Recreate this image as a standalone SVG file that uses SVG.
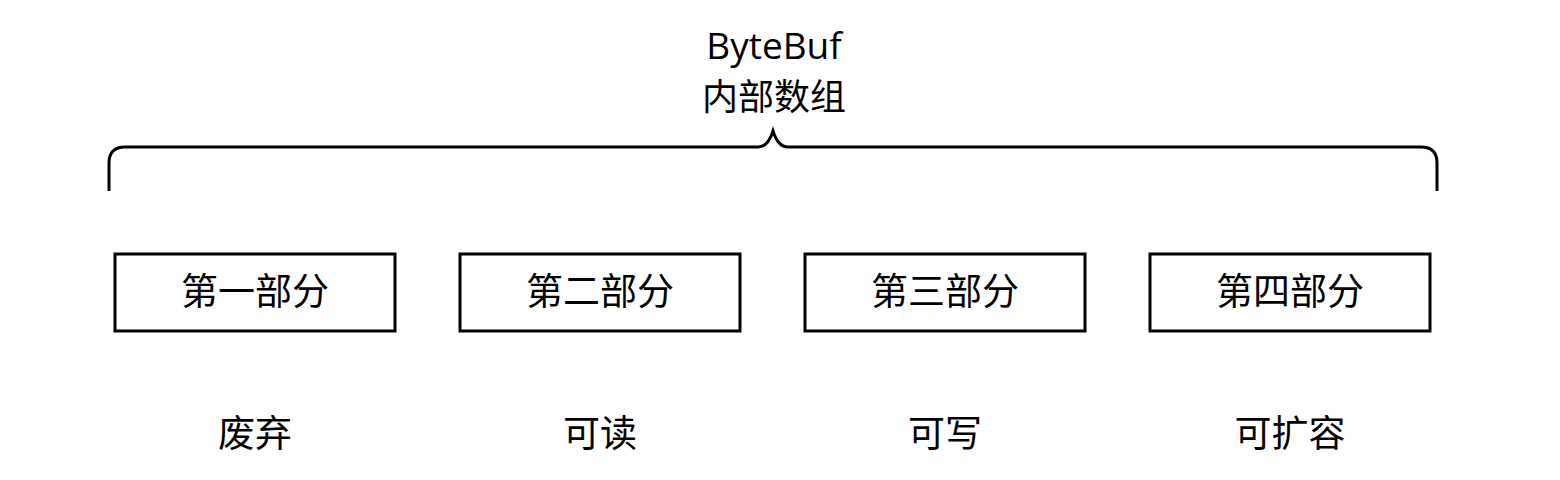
<svg xmlns="http://www.w3.org/2000/svg" width="1560" height="480" viewBox="0 0 1560 480">
<style>
.box{fill:#fff;stroke:#000;stroke-width:3}
.t{font-family:"Noto Sans CJK SC","Open Sans",sans-serif;fill:#000;text-anchor:middle}
.bl{font-size:37px}
.lb{font-size:37px}
</style>
<rect width="1560" height="480" fill="#fff"/>
<g id="title">
<text class="t" x="774" y="59" style="font-family:'Open Sans','Noto Sans CJK SC',sans-serif;font-size:37px">ByteBuf</text>
<text class="t" x="774" y="110" style="font-size:36px">内部数组</text>
</g>
<g id="connectors">
<path d="M109,191 V163 Q109,147 125,147 H758 Q768,147 773,131 Q778,147 788,147 H1421 Q1437,147 1437,163 V191" fill="none" stroke="#000" stroke-width="3"/>
</g>
<g id="part1"><rect class="box" x="115" y="254" width="280" height="77"/><text class="t bl" x="255" y="305">第一部分</text></g>
<g id="part2"><rect class="box" x="460" y="254" width="280" height="77"/><text class="t bl" x="600" y="305">第二部分</text></g>
<g id="part3"><rect class="box" x="805" y="254" width="280" height="77"/><text class="t bl" x="945" y="305">第三部分</text></g>
<g id="part4"><rect class="box" x="1150" y="254" width="280" height="77"/><text class="t bl" x="1290" y="305">第四部分</text></g>
<g id="label1"><text class="t lb" x="255" y="447">废弃</text></g>
<g id="label2"><text class="t lb" x="600" y="447">可读</text></g>
<g id="label3"><text class="t lb" x="945" y="447">可写</text></g>
<g id="label4"><text class="t lb" x="1290" y="447">可扩容</text></g>
</svg>
